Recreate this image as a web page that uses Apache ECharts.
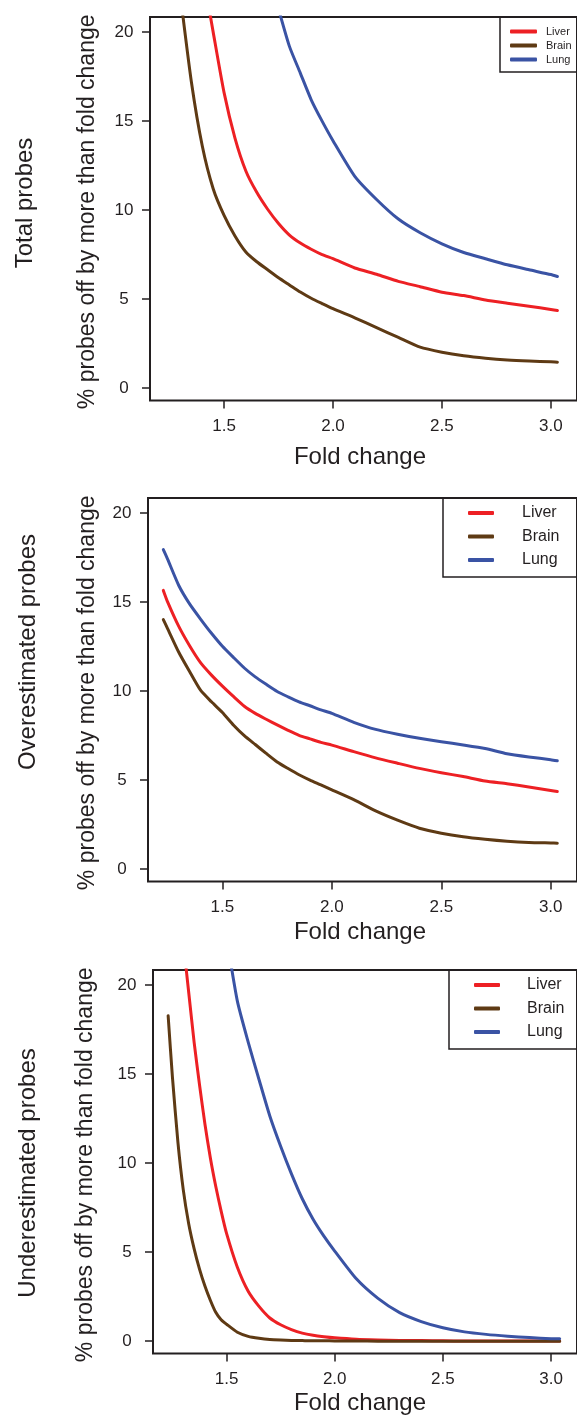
<!DOCTYPE html>
<html>
<head>
<meta charset="utf-8">
<script src="https://cdn.jsdelivr.net/npm/echarts@6/dist/echarts.min.js"></script>
<style>
  body { margin: 0; background: #fff; }
  #chartBox { width: 577px; height: 1416px; }
</style>
</head>
<body>
<div id="chartBox"></div>
<script>
// fold change sample points for each panel
const fcTotal = [1.30, 1.35, 1.40, 1.45, 1.50, 1.55, 1.60, 1.65, 1.70, 1.75, 1.80, 1.85, 1.90, 1.95, 2.00, 2.10, 2.20, 2.30, 2.40, 2.50, 2.60, 2.70, 2.80, 2.90, 3.00, 3.03]
const totalLiver = [null, null, 23.5, 20.0, 16.6, 14.05, 12.2, 11.0, 10.05, 9.25, 8.6, 8.15, 7.8, 7.5, 7.27, 6.75, 6.4, 6.0, 5.7, 5.39, 5.2, 4.95, 4.77, 4.6, 4.42, 4.36]
const totalBrain = [22, 17.2, 13.6, 11.2, 9.7, 8.55, 7.65, 7.1, 6.65, 6.2, 5.8, 5.4, 5.05, 4.75, 4.46, 3.95, 3.4, 2.85, 2.3, 2.02, 1.82, 1.68, 1.58, 1.52, 1.48, 1.46]
const totalLung = [null, null, null, null, null, null, null, null, null, 21.3, 19.2, 17.7, 16.2, 15.0, 13.9, 11.9, 10.6, 9.5, 8.73, 8.11, 7.62, 7.27, 6.93, 6.65, 6.38, 6.27]

const fcOver = [1.23, 1.25, 1.30, 1.35, 1.40, 1.45, 1.50, 1.55, 1.60, 1.65, 1.70, 1.75, 1.80, 1.85, 1.90, 1.95, 2.00, 2.10, 2.20, 2.30, 2.40, 2.50, 2.60, 2.70, 2.80, 2.90, 3.00, 3.03]
const overLiver = [15.66, 15.0, 13.65, 12.55, 11.6, 10.9, 10.28, 9.7, 9.15, 8.75, 8.42, 8.1, 7.8, 7.52, 7.32, 7.12, 6.97, 6.6, 6.25, 5.95, 5.66, 5.42, 5.2, 4.95, 4.8, 4.62, 4.42, 4.36]
const overBrain = [14.02, 13.5, 12.2, 11.1, 10.05, 9.4, 8.8, 8.1, 7.5, 7.0, 6.5, 6.02, 5.65, 5.3, 5.0, 4.73, 4.45, 3.9, 3.27, 2.75, 2.3, 2.02, 1.82, 1.68, 1.57, 1.5, 1.47, 1.46]
const overLung = [17.95, 17.4, 15.95, 14.9, 14.05, 13.25, 12.52, 11.9, 11.3, 10.8, 10.38, 9.98, 9.68, 9.4, 9.18, 8.95, 8.75, 8.25, 7.85, 7.58, 7.35, 7.16, 6.98, 6.78, 6.48, 6.3, 6.15, 6.09]

const fcUnder = [1.23, 1.25, 1.275, 1.30, 1.325, 1.35, 1.375, 1.40, 1.425, 1.45, 1.475, 1.50, 1.55, 1.60, 1.65, 1.70, 1.75, 1.80, 1.85, 1.90, 1.95, 2.00, 2.10, 2.20, 2.30, 2.40, 2.50, 2.60, 2.70, 2.80, 2.90, 3.00, 3.04]
const underLiver = [null, null, null, 22.4, 19.6, 16.8, 14.4, 12.2, 10.3, 8.7, 7.3, 6.05, 4.15, 2.8, 1.95, 1.3, 0.92, 0.65, 0.45, 0.33, 0.25, 0.19, 0.11, 0.07, 0.04, 0.03, 0.02, 0.01, 0.01, 0.01, 0.01, 0.01, 0.01]
const underBrain = [18.28, 14.8, 11.2, 8.5, 6.6, 5.2, 4.05, 3.1, 2.3, 1.62, 1.2, 0.95, 0.5, 0.27, 0.16, 0.09, 0.06, 0.04, 0.03, 0.02, 0.02, 0.01, 0.01, 0, 0, 0, 0, 0, 0, 0, 0, 0, 0]
const underLung = [null, null, null, null, null, null, null, null, null, null, null, 22.7, 19.1, 16.8, 14.7, 12.65, 10.95, 9.4, 8.0, 6.85, 5.9, 5.06, 3.5, 2.4, 1.6, 1.1, 0.75, 0.52, 0.38, 0.28, 0.2, 0.14, 0.13]

const xTicks = [1.5, 2.0, 2.5, 3.0]
const yTicks = [0, 5, 10, 15, 20]
const tissues = ['Liver', 'Brain', 'Lung']
const colors = { Liver: '#ED2024', Brain: '#5E3A14', Lung: '#3A53A4' }

const panelTitles = ['Total probes', 'Overestimated probes', 'Underestimated probes']
const yTitle = '% probes off by more than fold change'

const panels = [
  { fc: fcTotal, Liver: totalLiver, Brain: totalBrain, Lung: totalLung },
  { fc: fcOver, Liver: overLiver, Brain: overBrain, Lung: overLung },
  { fc: fcUnder, Liver: underLiver, Brain: underBrain, Lung: underLung },
]

// layout per panel (pixels)
const gridPos = [
  { left: 150, top: 17, foldGap: 57 },
  { left: 148, top: 498, foldGap: 51 },
  { left: 153, top: 970, foldGap: 50 },
]
const gridW = 435
const gridH = 383.6
const font = 'Liberation Sans, Arial, sans-serif'
const ink = '#231F20'

const toPairs = (xs, ys) => xs.map((x, i) => [x, ys[i]]).filter((p) => p[1] !== null)

const grids = gridPos.map((g) => ({
  left: g.left,
  top: g.top,
  width: gridW,
  height: gridH,
  show: true,
  borderColor: ink,
  borderWidth: 2,
  backgroundColor: 'transparent',
}))

const xAxes = gridPos.map((g, i) => ({
  type: 'value',
  gridIndex: i,
  position: 'bottom',
  min: 1.16,
  max: 3.12,
  axisLine: { show: false, onZero: false },
  splitLine: { show: false },
  axisTick: { show: true, inside: false, length: 8, lineStyle: { color: ink, width: 1.5 }, customValues: xTicks },
  axisLabel: {
    customValues: xTicks,
    formatter: (v) => v.toFixed(1),
    margin: 17,
    color: ink,
    fontSize: 17,
    fontFamily: font,
  },
}))

const yAxes = gridPos.map((g, i) => ({
  type: 'value',
  gridIndex: i,
  position: 'left',
  min: -0.7,
  max: 20.85,
  axisLine: { show: false, onZero: false },
  splitLine: { show: false },
  axisTick: { show: true, inside: false, length: 8, lineStyle: { color: ink, width: 1.5 }, customValues: yTicks },
  axisLabel: {
    customValues: yTicks,
    margin: 26,
    align: 'center',
    color: ink,
    fontSize: 17,
    fontFamily: font,
  },
}))

const series = []
panels.forEach((p, i) => {
  tissues.forEach((t) => {
    series.push({
      name: t,
      type: 'line',
      xAxisIndex: i,
      yAxisIndex: i,
      data: toPairs(p.fc, p[t]),
      showSymbol: false,
      smooth: 0.2,
      clip: true,
      color: colors[t],
      lineStyle: { width: 3, color: colors[t], cap: 'round', join: 'round' },
    })
  })
})

// legend boxes
const legendCfg = [
  { left: 500, top: 17, fontSize: 11, gap: 3, padding: [9, 60, 7, 10], itemWidth: 27, textPad: 4 },
  { left: 443, top: 498, fontSize: 16, gap: 7.5, padding: [7, 80, 9, 25], itemWidth: 26, textPad: 23 },
  { left: 449, top: 970, fontSize: 16, gap: 7.5, padding: [7, 80, 9, 25], itemWidth: 26, textPad: 22 },
]
const legends = legendCfg.map((l) => ({
  data: tissues,
  orient: 'vertical',
  left: l.left,
  top: l.top,
  padding: l.padding,
  itemGap: l.gap,
  itemWidth: l.itemWidth,
  itemHeight: 4,
  icon: 'roundRect',
  borderColor: ink,
  borderWidth: 1.5,
  borderRadius: 0,
  selectedMode: false,
  textStyle: { fontSize: l.fontSize, lineHeight: l.fontSize, color: ink, fontFamily: font, padding: [0, 0, 0, l.textPad] },
}))

// titles around each panel
const graphics = []
const outerPos = [{ x: 25, y: 203 }, { x: 28, y: 652 }, { x: 28, y: 1173 }]
const yTitlePos = [88, 88, 86]
gridPos.forEach((g, i) => {
  graphics.push({
    type: 'text',
    x: outerPos[i].x,
    y: outerPos[i].y,
    rotation: Math.PI / 2,
    style: { text: panelTitles[i], fontSize: 24, fontFamily: font, fill: ink, align: 'center', verticalAlign: 'middle' },
  })
  graphics.push({
    type: 'text',
    x: yTitlePos[i],
    y: g.top + gridH / 2 + 3,
    rotation: Math.PI / 2,
    style: { text: yTitle, fontSize: 23, fontFamily: font, fill: ink, align: 'center', verticalAlign: 'middle' },
  })
  graphics.push({
    type: 'text',
    x: 360,
    y: g.top + gridH + g.foldGap,
    style: { text: 'Fold change', fontSize: 24, fontFamily: font, fill: ink, align: 'center', verticalAlign: 'middle' },
  })
})

const myChart = echarts.init(document.getElementById('chartBox'), null, { renderer: 'canvas' })
myChart.setOption({
  animation: false,
  backgroundColor: '#fff',
  grid: grids,
  xAxis: xAxes,
  yAxis: yAxes,
  legend: legends,
  series: series,
  graphic: graphics,
})
</script>
</body>
</html>
